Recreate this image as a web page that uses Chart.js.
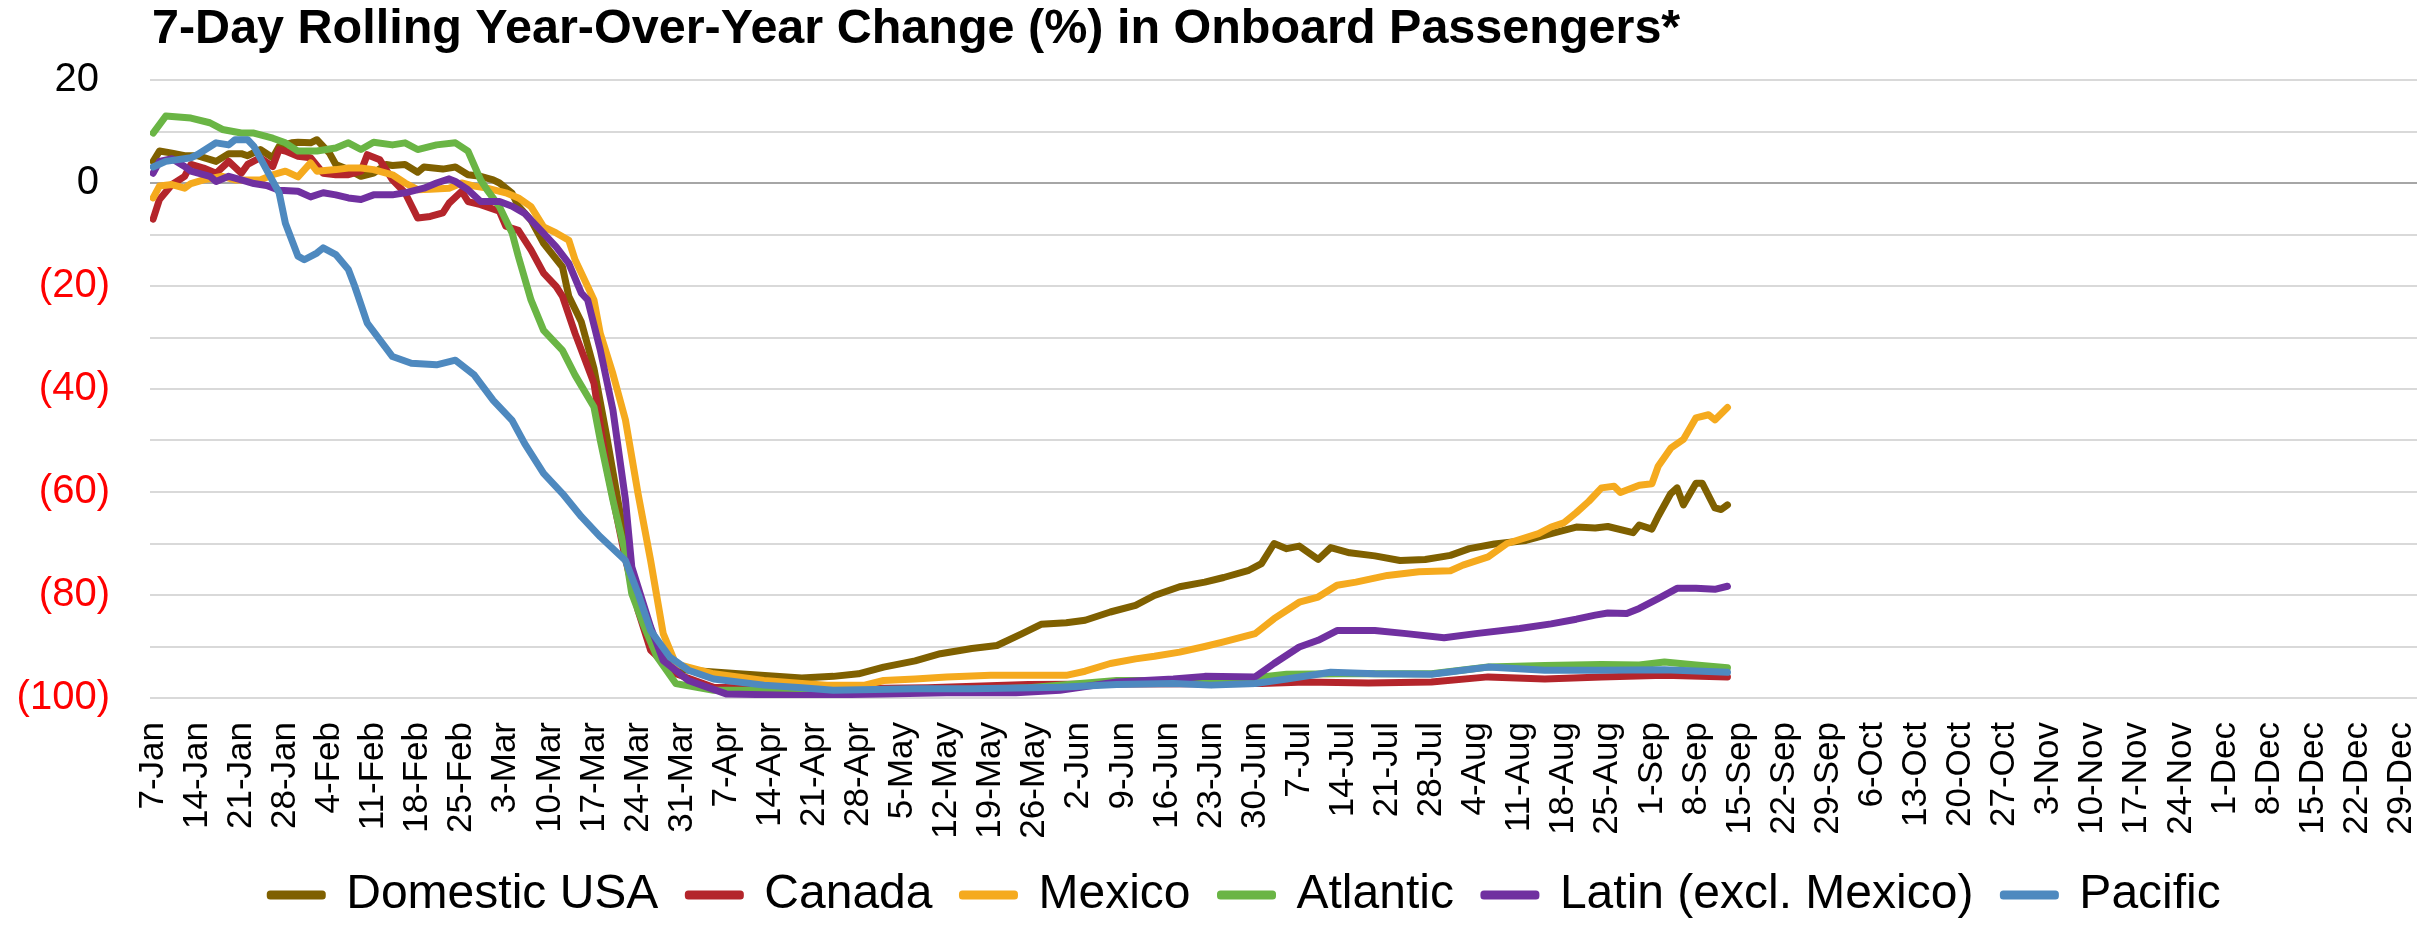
<!DOCTYPE html>
<html>
<head>
<meta charset="utf-8">
<title>Onboard Passengers YoY</title>
<script src="https://cdn.jsdelivr.net/npm/chart.js@4.4.1/dist/chart.umd.min.js"></script>
<style>
  html, body { margin: 0; padding: 0; background: #ffffff; }
  #wrap { width: 2433px; height: 929px; }
</style>
</head>
<body>
<div id="wrap"><canvas id="chart" width="2433" height="929"></canvas></div>
<script>
// x values are day-of-year in 2020 (7 = 7-Jan), y values are % change vs prior year
const chartTitle = "7-Day Rolling Year-Over-Year Change (%) in Onboard Passengers*";

const monthNames = ["Jan", "Feb", "Mar", "Apr", "May", "Jun", "Jul", "Aug", "Sep", "Oct", "Nov", "Dec"];
const monthLengths = [31, 29, 31, 30, 31, 30, 31, 31, 30, 31, 30, 31];

const domesticDays = [7,8,10,12,14,17,19,21,22,24,26,27,29,30,32,33,35,36,38,40,42,44,45,47,49,50,53,55,57,59,61,62,64,65,67,69,72,73,75,77,79,81,82,84,86,89,91,100,110,115,119,123,128,132,137,141,145,148,152,155,159,163,166,170,174,177,181,183,185,187,189,192,194,197,201,205,209,213,216,220,225,229,233,236,238,242,243,245,246,248,249,250,252,253,255,256,257];
const domesticUsa = [4.2,6.2,5.8,5.3,5.3,4.2,5.7,5.7,5.3,6.5,4.9,7.1,7.8,7.9,7.8,8.4,5.8,3.6,2.6,1.3,1.9,3.6,3.4,3.6,2.1,3.1,2.7,3.1,1.6,1.3,0.6,0,-2,-4.5,-7.2,-11.7,-16.3,-22,-27,-36,-49,-63,-70,-81,-88.5,-93.5,-94.5,-95.3,-96.1,-95.8,-95.3,-94,-92.8,-91.4,-90.4,-89.8,-87.5,-85.7,-85.4,-84.9,-83.3,-82,-80.1,-78.4,-77.5,-76.6,-75.2,-73.9,-70,-71,-70.5,-73.1,-70.8,-71.8,-72.4,-73.3,-73.1,-72.3,-71,-70.1,-69.4,-68.1,-66.8,-67,-66.7,-67.9,-66.4,-67.2,-64.7,-60.3,-59.2,-62.5,-58.3,-58.3,-63.1,-63.4,-62.5];

const canadaDays = [7,8,10,12,13,15,17,19,21,22,24,26,27,28,30,32,34,36,38,40,41,43,45,47,49,51,53,54,56,57,59,62,63,65,67,69,71,72,74,77,79,80,82,84,86,90,96,110,130,146,160,183,190,200,210,219,228,237,247,257];
const canada = [-7,-3.2,-0.3,1.3,3.6,2.9,1.9,4.2,1.9,3.6,4.9,3.2,6.5,6.2,5.2,4.9,1.9,1.6,1.6,2.3,5.5,4.5,0.6,-1.9,-6.8,-6.5,-5.8,-3.9,-1.6,-3.6,-4.2,-5.5,-8.4,-9.2,-13,-17.5,-20.1,-22,-29.2,-38.9,-55.1,-61,-73,-83,-90.7,-95.3,-97.9,-98.3,-98,-97.4,-97.3,-97.2,-96.9,-97.1,-96.9,-95.9,-96.3,-95.9,-95.6,-95.9];

const mexicoDays = [7,8,10,12,13,15,18,20,22,24,26,28,30,32,33,36,38,40,42,45,47,49,51,54,56,58,60,63,65,67,69,71,73,74,76,77,78,80,82,84,86,88,90,96,104,110,114,120,123,128,133,140,146,152,155,159,163,166,170,174,177,182,185,189,192,195,198,203,208,213,215,219,222,227,229,231,233,235,237,239,240,243,245,246,248,250,252,254,255,257];
const mexico = [-2.9,-0.6,-0.3,-1,-0.1,0.6,1.3,0.6,0.6,0.6,1.6,2.3,1.2,3.9,2.3,2.6,2.9,2.9,2.6,1.6,0,-1.3,-1.2,-1,0,-0.6,-1,-1.9,-2.9,-4.6,-8.5,-9.7,-11.1,-14.9,-20.1,-22.7,-29.2,-37,-46,-60.3,-73.3,-87.5,-93.4,-95.3,-96.6,-97.2,-97.5,-97.5,-96.6,-96.3,-95.9,-95.6,-95.6,-95.6,-94.8,-93.3,-92.4,-91.9,-91.1,-90,-89.1,-87.5,-84.6,-81.4,-80.4,-78.1,-77.5,-76.2,-75.5,-75.3,-74.2,-72.6,-70,-68.1,-66.8,-66,-64,-61.8,-59.2,-58.9,-60.1,-58.7,-58.4,-55,-51.5,-49.8,-45.6,-45,-46,-43.6];

const atlanticDays = [7,9,13,16,18,21,23,26,28,30,33,36,38,40,42,45,47,49,52,55,57,59,60,62,64,65,67,69,72,74,77,78,80,82,83,85,87,90,96,110,128,146,160,175,183,187,196,210,219,228,237,243,247,252,257];
const atlantic = [9.7,13,12.6,11.7,10.4,9.7,9.7,8.7,7.8,6.2,6.2,6.8,7.8,6.5,7.9,7.4,7.8,6.5,7.4,7.8,6.2,0.6,-1.3,-4.6,-9.7,-14.3,-22.7,-28.6,-32.5,-37.3,-43.5,-49.9,-61.5,-72,-79.7,-86.2,-92,-97.2,-98.5,-98.5,-98.8,-98,-96.6,-96.6,-95.9,-95.4,-95.3,-95.3,-94,-93.7,-93.5,-93.6,-93,-93.6,-94.1];

const latinDays = [7,8,10,12,13,16,17,19,21,23,25,27,30,32,34,36,38,40,42,45,47,50,52,54,55,57,59,62,64,66,69,71,73,75,76,78,80,82,83,86,88,92,98,110,123,133,144,151,160,169,174,182,185,189,192,195,201,206,212,217,224,229,233,236,238,241,243,246,249,252,255,257];
const latin = [1.9,4.2,4.7,3.2,2.3,1.3,0.3,1.3,0.6,-0.1,-0.5,-1.4,-1.6,-2.7,-1.9,-2.3,-2.9,-3.2,-2.3,-2.3,-1.9,-1,0,0.8,0.3,-1.3,-3.6,-3.6,-4.5,-5.9,-9.8,-12.4,-15.6,-21.4,-22.7,-32.4,-44,-61.5,-74.5,-86.2,-92.7,-96.6,-99.2,-99.5,-99.2,-99,-99,-98.5,-96.9,-96.3,-95.8,-95.9,-93.3,-90.1,-88.8,-86.9,-86.9,-87.5,-88.3,-87.5,-86.5,-85.6,-84.7,-83.9,-83.5,-83.6,-82.6,-80.7,-78.7,-78.7,-78.9,-78.3];

const pacificDays = [7,9,13,14,17,19,20,22,23,25,27,28,30,31,33,34,36,38,39,41,45,48,52,55,58,61,64,66,69,72,75,78,82,84,86,89,92,96,104,110,115,128,137,151,160,169,175,182,187,194,201,210,215,219,228,237,247,257];
const pacific = [3.1,4.2,4.9,5.5,7.8,7.4,8.4,8.4,7.1,2.6,-1.9,-7.8,-14.2,-14.9,-13.6,-12.6,-13.9,-16.8,-20,-27.2,-33.7,-35,-35.3,-34.4,-37.3,-42.2,-46.1,-50.6,-56.4,-60.3,-64.8,-68.7,-73.3,-79.7,-86.9,-92,-94.6,-96.3,-97.5,-98,-98.5,-98.2,-98.2,-97.9,-97.4,-97.2,-97.5,-97.2,-96.3,-95,-95.3,-95.4,-94.6,-94,-94.6,-94.6,-94.5,-95];

// weekly tick marks, 7-Jan through 29-Dec
const tickDays = [];
for (let d = 7; d <= 366; d += 7) tickDays.push(d);

const FONT = '"Liberation Sans", Arial, Helvetica, sans-serif';

function dayLabel(doy) {
    let d = doy, m = 0;
    while (m < 11 && d > monthLengths[m]) {
        d -= monthLengths[m];
        m++;
    }
    return d + "-" + monthNames[m];
}

function makeSeries(label, days, values, color, order) {
    return {
        label: label,
        data: days.map((d, i) => ({ x: d, y: values[i] })),
        borderColor: color,
        backgroundColor: color,
        borderWidth: 7,
        borderJoinStyle: "round",
        borderCapStyle: "round",
        pointRadius: 0,
        tension: 0,
        order: order
    };
}

// title sits flush with the left edge of the plot area
const leftTitle = {
    id: "leftTitle",
    afterDraw(chart) {
        const ctx = chart.ctx;
        ctx.save();
        ctx.font = "bold 48.5px " + FONT;
        ctx.fillStyle = "#000000";
        ctx.textAlign = "left";
        ctx.textBaseline = "alphabetic";
        ctx.fillText(chartTitle, chart.chartArea.left + 2, 43);
        ctx.restore();
    }
};

// legend row is centred a bit to the right of the canvas middle
const legendShift = {
    id: "legendShift",
    afterLayout(chart) {
        if (chart.legend) chart.legend.left += 74;
    }
};

const ctx = document.getElementById("chart").getContext("2d");

new Chart(ctx, {
    type: "line",
    data: {
        datasets: [
            makeSeries("Domestic USA", domesticDays, domesticUsa, "#7F6000", 6),
            makeSeries("Canada", canadaDays, canada, "#B4252B", 5),
            makeSeries("Mexico", mexicoDays, mexico, "#F5AA1E", 4),
            makeSeries("Atlantic", atlanticDays, atlantic, "#6AB545", 3),
            makeSeries("Latin (excl. Mexico)", latinDays, latin, "#7030A0", 2),
            makeSeries("Pacific", pacificDays, pacific, "#4E89BF", 1)
        ]
    },
    options: {
        responsive: false,
        animation: false,
        devicePixelRatio: 1,
        layout: { padding: { top: 80, right: 16, bottom: 0, left: 0 } },
        plugins: {
            legend: {
                position: "bottom",
                labels: {
                    font: { family: FONT, size: 48 },
                    color: "#000000",
                    boxWidth: 52,
                    boxHeight: 2,
                    padding: 30,
                    sort: (a, b) => a.datasetIndex - b.datasetIndex
                }
            },
            title: { display: false },
            tooltip: { enabled: false }
        },
        scales: {
            x: {
                type: "linear",
                min: 6.5,
                max: 366.5,
                grid: { display: false, drawTicks: false },
                border: { display: false },
                afterBuildTicks: scale => {
                    scale.ticks = tickDays.map(v => ({ value: v }));
                },
                afterFit: scale => {
                    // keeps the plot bottom (the -100 line) near y = 697
                    scale.height = 143;
                    // rotated labels would otherwise pull the plot edges inward
                    scale.paddingLeft = 0;
                    scale.paddingRight = 0;
                },
                ticks: {
                    autoSkip: false,
                    minRotation: 90,
                    maxRotation: 90,
                    padding: 24,
                    color: "#000000",
                    font: { family: FONT, size: 35 },
                    callback: v => dayLabel(v)
                }
            },
            y: {
                min: -100,
                max: 20,
                afterFit: scale => {
                    scale.width = 150;
                },
                ticks: {
                    stepSize: 10,
                    padding: 40,
                    font: { family: FONT, size: 40 },
                    color: c => (c.tick.value < 0 ? "#FF0000" : "#000000"),
                    callback: v => {
                        if (v % 20 !== 0) return "";
                        return v < 0 ? "(" + (-v) + ")" : v + " ";
                    }
                },
                grid: {
                    color: c => (c.tick.value === 0 ? "#A6A6A6" : "#D9D9D9"),
                    lineWidth: 2,
                    drawTicks: false
                },
                border: { display: false }
            }
        }
    },
    plugins: [leftTitle, legendShift]
});
</script>
</body>
</html>
